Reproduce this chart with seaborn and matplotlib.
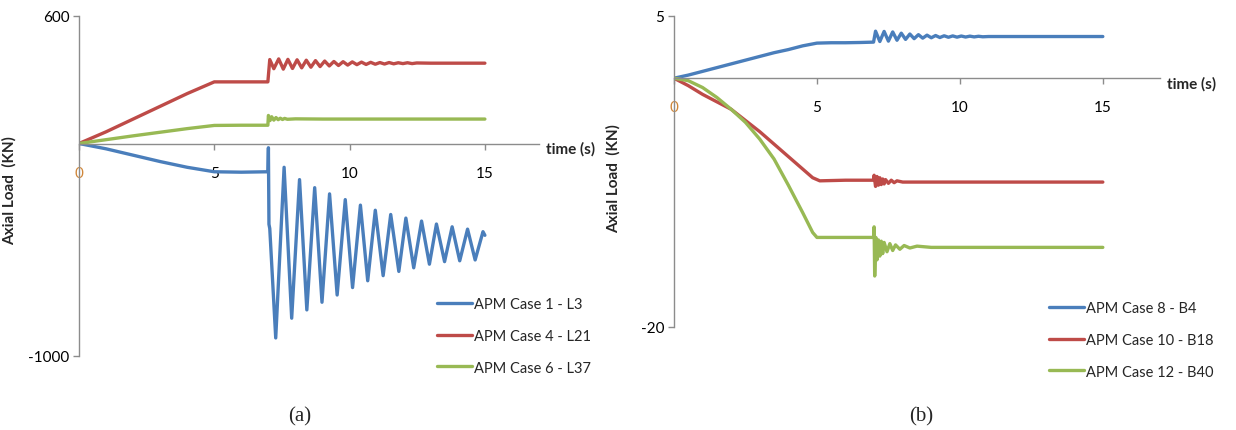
import matplotlib
matplotlib.use("Agg")
import matplotlib.pyplot as plt
import seaborn as sns

# ---------------- data ----------------
# Panel (a)
a_case1_t = [0, 1, 2, 3, 4, 5, 6, 6.98, 7.0, 7.02, 7.05, 7.27,
             7.58, 7.86, 8.15, 8.42, 8.71, 8.98, 9.26, 9.54, 9.84, 10.11,
             10.40, 10.67, 10.95, 11.24, 11.52, 11.82, 12.08, 12.37, 12.66,
             12.95, 13.21, 13.51, 13.79, 14.07, 14.36, 14.64, 14.93, 15.0]
a_case1_v = [0, -25, -55, -85, -112, -133, -135, -133, -20, -380, -400, -915,
             -112, -822, -170, -783, -208, -747, -237, -713, -264, -678,
             -290, -646, -314, -622, -334, -602, -351, -585, -365,
             -568, -379, -556, -392, -552, -403, -548, -415, -432]

a_case4_t = [0, 1, 2, 3, 4, 5, 6, 6.98, 7.05, 7.2, 7.38, 7.55, 7.72, 7.89,
             8.06, 8.23, 8.40, 8.57, 8.74, 8.91, 9.08, 9.25, 9.42, 9.59,
             9.76, 9.93, 10.10, 10.27, 10.44, 10.61, 10.78, 10.95, 11.12,
             11.29, 11.46, 11.63, 11.8, 11.97, 12.14, 12.31, 12.48, 13, 14, 15]
a_case4_v = [0, 55, 115, 175, 235, 290, 290, 290, 395, 352, 398, 350, 396, 353,
             394, 356, 392, 359, 390, 362, 388, 365, 386, 367,
             385, 369, 384, 371, 383, 372, 382, 373, 381,
             374, 381, 375, 380, 376, 380, 376, 379, 378, 378, 378]

a_case6_t = [0, 1, 2, 3, 4, 5, 6, 6.98, 7.0, 7.06, 7.12, 7.2, 7.28, 7.36,
             7.44, 7.52, 7.6, 7.7, 8.0, 9, 15]
a_case6_v = [0, 18, 36, 53, 70, 85, 86, 86, 132, 108, 126, 110, 122, 112,
             119, 113, 118, 114, 116, 115, 115]

# Panel (b)
b_case8_t = [0, 0.5, 1, 1.5, 2, 2.5, 3, 3.5, 4, 4.5, 5, 5.5, 6, 6.5, 6.98,
             7.05, 7.2, 7.35, 7.5, 7.65, 7.8, 7.95, 8.1, 8.25, 8.4, 8.55,
             8.7, 8.85, 9.0, 9.15, 9.3, 9.45, 9.6, 9.75, 9.9, 10.05, 10.2,
             10.35, 10.5, 10.65, 10.8, 11, 15]
b_case8_v = [0, 0.25, 0.55, 0.85, 1.15, 1.45, 1.75, 2.05, 2.3, 2.6, 2.82, 2.85,
             2.85, 2.87, 2.9, 3.78, 2.95, 3.76, 2.98, 3.72, 3.05, 3.62, 3.12,
             3.55, 3.18, 3.5, 3.22, 3.46, 3.25, 3.43, 3.27, 3.41, 3.29, 3.40,
             3.30, 3.39, 3.31, 3.38, 3.32, 3.37, 3.33, 3.35, 3.35]

b_case10_t = [0, 0.5, 1, 1.5, 2, 2.5, 3, 3.5, 4, 4.5, 4.85, 5.1, 6, 6.98,
              7.0, 7.05, 7.1, 7.15, 7.2, 7.25, 7.3, 7.35, 7.4, 7.5, 7.6, 7.7,
              7.8, 8.0, 15]
b_case10_v = [0, -0.6, -1.3, -1.9, -2.5, -3.4, -4.3, -5.3, -6.3, -7.3, -8.0,
              -8.25, -8.2, -8.2, -7.8, -8.7, -7.9, -8.6, -8.0, -8.55, -8.1,
              -8.5, -8.15, -8.45, -8.2, -8.4, -8.25, -8.35, -8.35]

b_case12_t = [0, 0.5, 1, 1.5, 2, 2.5, 3, 3.5, 4, 4.5, 4.85, 5.0, 6, 6.98,
              7.0, 7.02, 7.06, 7.1, 7.15, 7.2, 7.25, 7.3, 7.35, 7.45, 7.55,
              7.65, 7.75, 7.9, 8.05, 8.25, 8.5, 9, 15]
b_case12_v = [0, -0.2, -0.75, -1.55, -2.5, -3.55, -4.9, -6.5, -8.6, -10.8,
              -12.4, -12.8, -12.8, -12.8, -11.95, -15.9, -12.8, -14.6, -13.0,
              -14.3, -13.1, -14.1, -13.2, -13.95, -13.3, -13.85, -13.4, -13.75,
              -13.45, -13.65, -13.5, -13.6, -13.6]

labels_a = ["APM Case 1 - L3", "APM Case 4 - L21", "APM Case 6 - L37"]
labels_b = ["APM Case 8 - B4", "APM Case 10 - B18", "APM Case 12 - B40"]
xticks = [0, 5, 10, 15]
yticks_a = [600, -1000]
yticks_b = [5, -20]

# ---------------- styling ----------------
sns.set_style("white")
plt.rcParams['font.family'] = ['Lato', 'DejaVu Sans']

colors = ['#4a7ebb', '#be4b48', '#98b954']
LW = 2.4
AXC = '#8c8c8c'

W, H = 1236, 431
fig = plt.figure(figsize=(W / 100, H / 100), dpi=100)


def axes_px(l, t, r, b):
    return fig.add_axes([l / W, 1 - b / H, (r - l) / W, (b - t) / H])


axL = axes_px(79, 17, 539, 357)
axR = axes_px(674, 17, 1160, 328)

series_a = [(a_case1_t, a_case1_v), (a_case4_t, a_case4_v), (a_case6_t, a_case6_v)]
series_b = [(b_case8_t, b_case8_v), (b_case10_t, b_case10_v), (b_case12_t, b_case12_v)]

for ax, series, labels in [(axL, series_a, labels_a), (axR, series_b, labels_b)]:
    for (t, v), lab, c in zip(series, labels, colors):
        sns.lineplot(x=t, y=v, ax=ax, color=c, linewidth=LW, label=lab,
                     estimator=None, sort=False)


def style(ax, ylim, yticks, ylab_xy):
    ax.set_xlim(0, 17)
    ax.set_ylim(*ylim)
    for s in ['top', 'right']:
        ax.spines[s].set_visible(False)
    ax.spines['bottom'].set_position(('data', 0))
    ax.spines['left'].set_position(('data', 0))
    for s in ['bottom', 'left']:
        ax.spines[s].set_color(AXC)
        ax.spines[s].set_linewidth(1.0)
    ax.set_xticks(xticks)
    ax.set_xticklabels([str(x) for x in xticks])
    ax.set_yticks(yticks)
    ax.set_yticklabels([str(y) for y in yticks])
    ax.tick_params(axis='x', direction='out', length=4, width=1, color=AXC,
                   pad=12, labelsize=11, labelcolor='black', bottom=True)
    ax.tick_params(axis='y', direction='out', length=4, width=1, color=AXC,
                   pad=3, labelsize=11, labelcolor='black', left=True)
    ax.get_xticklabels()[0].set_color('#d0873a')
    ax.set_xlabel('')
    ax.set_ylabel('Axial Load  (KN)', fontweight='bold', fontsize=11)
    ax.yaxis.set_label_coords(*ylab_xy)
    ax.annotate('time (s)', xy=(1, 0), xycoords=ax.get_yaxis_transform(),
                xytext=(7, -5), textcoords='offset pixels', ha='left',
                va='center', fontsize=11, fontweight='bold')
    ax.set_facecolor('none')


style(axL, (-1000, 600), yticks_a, (-0.135, 0.49))
style(axR, (-20, 5), yticks_b, (-0.11, 0.48))

leg_kw = dict(bbox_transform=fig.transFigure, frameon=False, handlelength=2.4,
              handletextpad=0.15, labelspacing=1.22, borderaxespad=0,
              borderpad=0, fontsize=10.5, loc='upper left')
axL.legend(bbox_to_anchor=(437 / W, 1 - 298 / H), **leg_kw)
axR.legend(bbox_to_anchor=(1049 / W, 1 - 302 / H), **leg_kw)

fig.text(300 / W, 1 - 417 / H, '(a)', ha='center', va='center',
         family='Liberation Serif', fontsize=15)
fig.text(921 / W, 1 - 417 / H, '(b)', ha='center', va='center',
         family='Liberation Serif', fontsize=15)

fig.savefig('out.png', dpi=100)
